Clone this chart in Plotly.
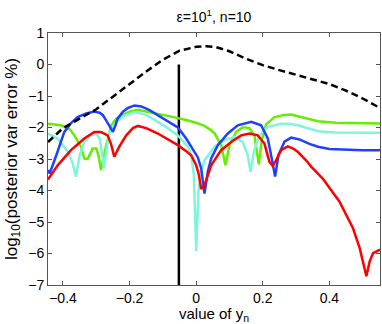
import plotly.graph_objects as go

# black dashed reference curve
dash_x = [-0.445, -0.40, -0.35, -0.30, -0.25, -0.20, -0.15, -0.10, -0.05, 0.00, 0.03,
          0.06, 0.10, 0.15, 0.20, 0.25, 0.30, 0.35, 0.40, 0.45, 0.50, 0.552]
dash_y = [-2.46, -2.02, -1.72, -1.42, -1.02, -0.62, -0.22, 0.15, 0.44, 0.56, 0.58,
          0.55, 0.42, 0.18, -0.02, -0.18, -0.33, -0.47, -0.62, -0.83, -1.08, -1.38]

green_x = [-0.445, -0.406, -0.38, -0.366, -0.346, -0.336, -0.326, -0.318, -0.311, -0.30,
           -0.293, -0.286, -0.278, -0.27, -0.255, -0.24, -0.225, -0.20, -0.175, -0.15,
           -0.115, -0.085, -0.055, -0.03, 0.0, 0.025, 0.04, 0.055, 0.075, 0.088, 0.10,
           0.12, 0.14, 0.16, 0.175, 0.188, 0.197, 0.21, 0.235, 0.265, 0.285, 0.325,
           0.366, 0.42, 0.552]
green_y = [-1.88, -1.93, -2.05, -2.25, -2.61, -2.98, -3.0, -2.8, -2.67, -2.67,
           -2.9, -3.35, -2.9, -2.56, -1.93, -1.72, -1.62, -1.5, -1.44, -1.5,
           -1.57, -1.63, -1.69, -1.76, -1.85, -1.95, -2.05, -2.18, -2.56, -3.2, -2.56,
           -2.14, -1.99, -2.02, -2.25, -3.17, -2.4, -1.9, -1.67, -1.6, -1.59, -1.7,
           -1.8, -1.85, -1.87]

cyan_x = [-0.445, -0.416, -0.386, -0.372, -0.361, -0.35, -0.336, -0.316, -0.30, -0.29,
          -0.283, -0.277, -0.268, -0.26, -0.24, -0.215, -0.185, -0.15, -0.115, -0.085,
          -0.055, -0.025, -0.015, -0.007, 0.0, 0.007, 0.015, 0.025, 0.055, 0.085,
          0.115, 0.14, 0.155, 0.163, 0.173, 0.19, 0.215, 0.255, 0.28, 0.305, 0.366,
          0.416, 0.552]
cyan_y = [-2.19, -2.35, -2.77, -3.1, -3.56, -2.88, -2.46, -2.25, -2.2, -2.35,
          -2.8, -3.3, -2.6, -2.14, -1.82, -1.62, -1.51, -1.6, -1.82, -2.02,
          -2.25, -2.61, -2.88, -3.5, -5.92, -4.0, -3.4, -3.04, -2.61, -2.4,
          -2.3, -2.46, -2.88, -3.41, -2.77, -2.25, -1.98, -1.88, -1.88, -1.93, -2.12,
          -2.16, -2.17]

blue_x = [-0.445, -0.44, -0.42, -0.396, -0.375, -0.356, -0.33, -0.306, -0.29, -0.28,
          -0.27, -0.26, -0.25, -0.243, -0.236, -0.22, -0.205, -0.185, -0.165, -0.14,
          -0.115, -0.085, -0.055, -0.03, -0.01, 0.005, 0.015, 0.025, 0.035, 0.045,
          0.065, 0.095, 0.125, 0.165, 0.195, 0.215, 0.225, 0.237, 0.247, 0.265,
          0.285, 0.31, 0.34, 0.366, 0.40, 0.45, 0.50, 0.552]
blue_y = [-3.35, -3.46, -2.88, -2.14, -1.85, -1.67, -1.55, -1.49, -1.53, -1.61,
          -1.78, -1.98, -2.14, -1.95, -1.72, -1.5, -1.38, -1.3, -1.33, -1.45,
          -1.61, -1.8, -2.0, -2.35, -2.72, -2.95, -3.3, -4.1, -3.4, -2.98,
          -2.56, -2.19, -1.93, -1.82, -1.93, -2.35, -2.88, -3.56, -2.88, -2.45,
          -2.32, -2.38, -2.52, -2.61, -2.68, -2.71, -2.72, -2.72]

red_x = [-0.445, -0.416, -0.376, -0.336, -0.306, -0.286, -0.266, -0.256, -0.246, -0.231,
         -0.21, -0.19, -0.175, -0.15, -0.115, -0.085, -0.055, -0.03, -0.015, 0.0,
         0.008, 0.015, 0.025, 0.045, 0.075, 0.105, 0.135, 0.16, 0.185, 0.205,
         0.22, 0.23, 0.24, 0.255, 0.275, 0.29, 0.305, 0.33, 0.346, 0.38, 0.40,
         0.43, 0.471, 0.491, 0.503, 0.511, 0.521, 0.531, 0.552]
red_y = [-3.65, -3.2, -2.72, -2.35, -2.14, -2.14, -2.25, -2.51, -2.93, -2.61,
         -2.25, -2.02, -1.95, -2.02, -2.19, -2.38, -2.56, -2.75, -2.88, -3.2,
         -3.5, -3.95, -3.83, -3.2, -2.72, -2.46, -2.25, -2.19, -2.25, -2.51,
         -3.09, -3.22, -3.04, -2.72, -2.6, -2.66, -2.77, -3.04, -3.25, -3.62, -3.9,
         -4.35, -5.2, -5.83, -6.36, -6.72, -6.25, -5.99, -5.88]

vline_x = [-0.052, -0.052]
vline_y = [-7, 0]

x_ticks = [-0.4, -0.2, 0, 0.2, 0.4]
y_ticks = [-7, -6, -5, -4, -3, -2, -1, 0, 1]

fig = go.Figure()
fig.add_trace(go.Scatter(x=vline_x, y=vline_y, mode="lines",
                         line=dict(color="black", width=2.5)))
fig.add_trace(go.Scatter(x=green_x, y=green_y, mode="lines",
                         line=dict(color="#66ee00", width=2.5)))
fig.add_trace(go.Scatter(x=cyan_x, y=cyan_y, mode="lines",
                         line=dict(color="#7ff5dc", width=2.5)))
fig.add_trace(go.Scatter(x=blue_x, y=blue_y, mode="lines",
                         line=dict(color="#2040ff", width=2.5)))
fig.add_trace(go.Scatter(x=red_x, y=red_y, mode="lines",
                         line=dict(color="#ff0000", width=2.5)))
fig.add_trace(go.Scatter(x=dash_x, y=dash_y, mode="lines",
                         line=dict(color="black", width=2.5, dash="7px,4px")))

axis_style = dict(showline=True, linecolor="#555555", linewidth=1, mirror="ticks",
                  ticks="inside", ticklen=4, tickcolor="#555555", showgrid=False,
                  zeroline=False, tickfont=dict(size=14, color="black"))

fig.update_layout(
    width=382, height=324,
    margin=dict(l=48, r=2, t=33, b=39),
    paper_bgcolor="white", plot_bgcolor="white",
    showlegend=False,
    font=dict(family="Liberation Sans, Arial, sans-serif", size=14, color="black"),
    title=dict(text="ε=10<sup>1</sup>, n=10", x=0.5, xref="paper", xanchor="center",
               y=0.947, yref="container", yanchor="middle", font=dict(size=14)),
    xaxis=dict(range=[-0.445, 0.552], tickvals=x_ticks,
               title=dict(text="value of y<sub>n</sub>", standoff=0, font=dict(size=15)),
               **axis_style),
    yaxis=dict(range=[-7, 1], tickvals=y_ticks,
               title=dict(text="log<sub>10</sub>(posterior var error %)", standoff=6,
                          font=dict(size=17)),
               **axis_style),
)

fig.write_html("out.html", config={"displayModeBar": False},
               post_script="document.body.style.margin='0px';")
